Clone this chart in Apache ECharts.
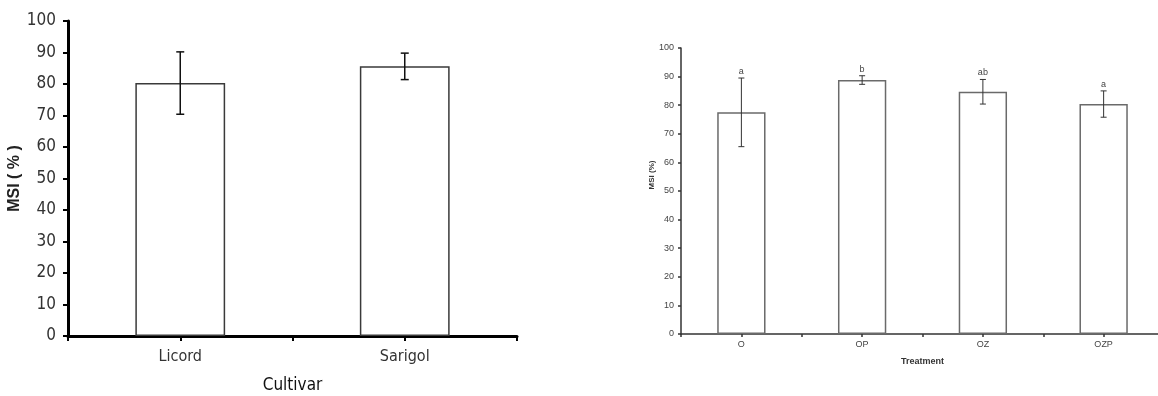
<!DOCTYPE html>
<html>
<head>
    <meta charset="utf-8">
    <title>MSI</title>
    <script type="text/javascript" src="https://cdn.jsdelivr.net/npm/echarts@6/dist/echarts.min.js"></script>
    <style>
        html, body { margin: 0; padding: 0; background: #fff; }
    </style>
</head>
<body>
    <div id="main" style="width: 1158px;height:396px;"></div>

    <script type="text/javascript">
        // left panel: cultivars
        var cultivars = ['Licord', 'Sarigol'];
        var cultivarMSI = [80.3, 85.6];
        var cultivarErr = [9.9, 4.2];

        // right panel: treatments
        var treatments = ['O', 'OP', 'OZ', 'OZP'];
        var treatmentMSI = [77.5, 88.8, 84.7, 80.4];
        var treatmentErr = [12.0, 1.5, 4.3, 4.6];
        var treatmentLetters = ['a', 'b', 'ab', 'a'];

        var yMin = 0, yMax = 100, yStep = 10;

        var narrow = "'DejaVu Sans Condensed', 'Liberation Sans Narrow', sans-serif";
        var sans = "'Liberation Sans', Arial, sans-serif";

        function errData(vals, errs) {
            var out = [];
            for (var i = 0; i < vals.length; i++) {
                out.push([i, vals[i], errs[i]]);
            }
            return out;
        }

        // error bar drawer, optional letters above
        function errorBars(capHalf, lineW, color, letters, fontSize, textColor) {
            return function (params, api) {
                var i = api.value(0), v = api.value(1), e = api.value(2);
                var top = api.coord([i, v + e]);
                var bot = api.coord([i, v - e]);
                var style = { stroke: color, lineWidth: lineW };
                var children = [
                    { type: 'line', shape: { x1: top[0], y1: top[1], x2: bot[0], y2: bot[1] }, style: style },
                    { type: 'line', shape: { x1: top[0] - capHalf, y1: top[1], x2: top[0] + capHalf, y2: top[1] }, style: style },
                    { type: 'line', shape: { x1: bot[0] - capHalf, y1: bot[1], x2: bot[0] + capHalf, y2: bot[1] }, style: style }
                ];
                if (letters) {
                    children.push({
                        type: 'text',
                        style: {
                            x: top[0], y: top[1] - 2,
                            text: letters[params.dataIndex],
                            align: 'center', verticalAlign: 'bottom',
                            fontSize: fontSize, fontFamily: sans, fill: textColor
                        }
                    });
                }
                return { type: 'group', children: children };
            };
        }

        var myChart = echarts.init(document.getElementById('main'));

        myChart.setOption({
            animation: false,
            backgroundColor: '#fff',
            grid: [
                { left: 68, top: 21, width: 449, height: 315, outerBoundsMode: 'none' },
                { left: 681, top: 48, width: 483, height: 286, outerBoundsMode: 'none' }
            ],
            xAxis: [
                {
                    type: 'category', gridIndex: 0, data: cultivars,
                    name: 'Cultivar', nameLocation: 'middle', nameGap: 41,
                    nameTextStyle: { fontFamily: narrow, fontSize: 17, color: '#111' },
                    axisLine: { lineStyle: { color: '#000', width: 3 } },
                    axisTick: { show: true, length: 5, lineStyle: { color: '#000', width: 2 } },
                    axisLabel: { margin: 13, fontFamily: narrow, fontSize: 16, color: '#333' }
                },
                {
                    type: 'category', gridIndex: 0, data: cultivars, position: 'bottom',
                    axisLine: { show: false },
                    axisTick: { show: true, alignWithLabel: true, length: 5, lineStyle: { color: '#000', width: 2 } },
                    axisLabel: { show: false }
                },
                {
                    type: 'category', gridIndex: 1, data: treatments,
                    name: 'Treatment', nameLocation: 'middle', nameGap: 23,
                    nameTextStyle: { fontFamily: sans, fontSize: 9, fontWeight: 'bold', color: '#333' },
                    axisLine: { lineStyle: { color: '#333', width: 1.5 } },
                    axisTick: { show: true, length: 3, lineStyle: { color: '#333', width: 1.5 } },
                    axisLabel: { margin: 6, fontFamily: sans, fontSize: 9, color: '#444' }
                },
                {
                    type: 'category', gridIndex: 1, data: treatments, position: 'bottom',
                    axisLine: { show: false },
                    axisTick: { show: true, alignWithLabel: true, length: 3, lineStyle: { color: '#333', width: 1.5 } },
                    axisLabel: { show: false }
                }
            ],
            yAxis: [
                {
                    type: 'value', gridIndex: 0, min: yMin, max: yMax, interval: yStep,
                    name: 'MSI ( % )', nameLocation: 'middle', nameGap: 43, nameRotate: 90,
                    nameTextStyle: { fontFamily: sans, fontSize: 16, fontWeight: 'bold', color: '#222' },
                    splitLine: { show: false },
                    axisLine: { show: true, lineStyle: { color: '#000', width: 3 } },
                    axisTick: { show: true, length: 5, lineStyle: { color: '#000', width: 2 } },
                    axisLabel: { margin: 12, fontFamily: narrow, fontSize: 17, color: '#333' }
                },
                {
                    type: 'value', gridIndex: 1, min: yMin, max: yMax, interval: yStep,
                    splitLine: { show: false },
                    axisLine: { show: true, lineStyle: { color: '#333', width: 1.5 } },
                    axisTick: { show: true, length: 3, lineStyle: { color: '#333', width: 1.5 } },
                    axisLabel: { margin: 7, fontFamily: sans, fontSize: 9, color: '#444' }
                }
            ],
            graphic: [
                {
                    type: 'text', x: 652, y: 175, rotation: Math.PI / 2,
                    style: {
                        text: 'MSI (%)', align: 'center', verticalAlign: 'middle',
                        fontFamily: sans, fontSize: 8, fontWeight: 'bold', fill: '#333'
                    }
                }
            ],
            series: [
                {
                    type: 'bar', xAxisIndex: 0, yAxisIndex: 0, data: cultivarMSI,
                    barWidth: '40%',
                    itemStyle: { color: '#fff', borderColor: '#3a3a3a', borderWidth: 1.5 }
                },
                {
                    type: 'custom', xAxisIndex: 0, yAxisIndex: 0, z: 5,
                    data: errData(cultivarMSI, cultivarErr),
                    renderItem: errorBars(4, 1.5, '#111', null)
                },
                {
                    type: 'bar', xAxisIndex: 2, yAxisIndex: 1, data: treatmentMSI,
                    barWidth: '40%',
                    itemStyle: { color: '#fff', borderColor: '#6a6a6a', borderWidth: 1.5 }
                },
                {
                    type: 'custom', xAxisIndex: 2, yAxisIndex: 1, z: 5,
                    data: errData(treatmentMSI, treatmentErr),
                    renderItem: errorBars(3, 1, '#333', treatmentLetters, 9, '#444')
                }
            ]
        });
    </script>
</body>
</html>
